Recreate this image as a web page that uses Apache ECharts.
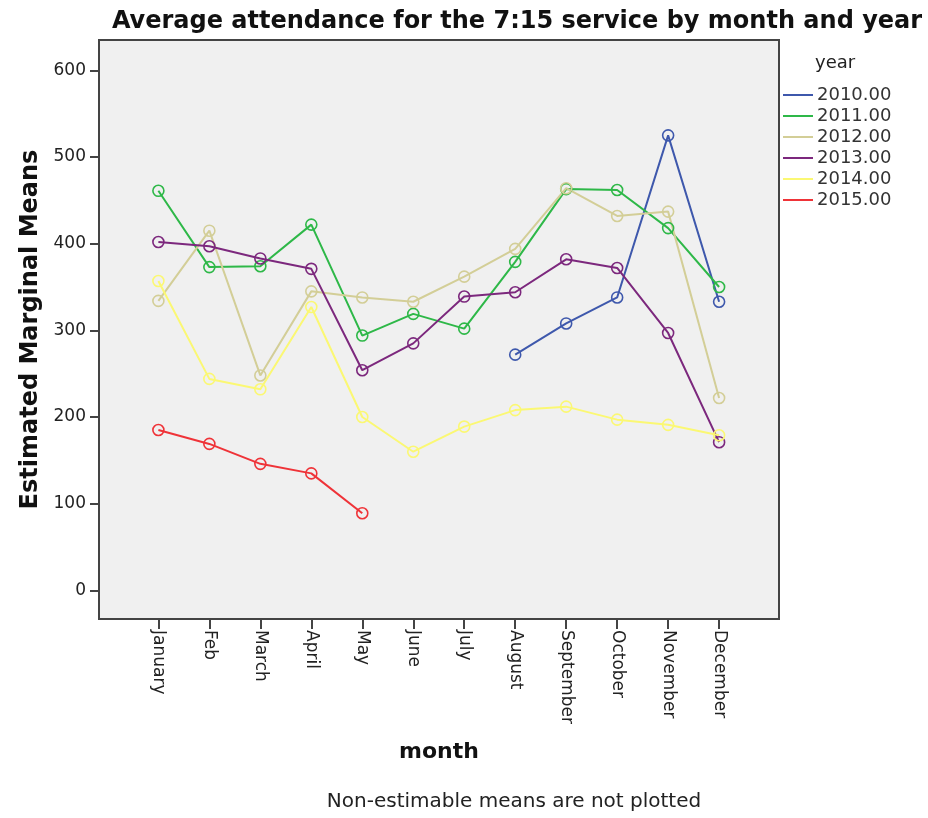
<!DOCTYPE html>
<html>
<head>
<meta charset="utf-8">
<script src="https://cdn.jsdelivr.net/npm/echarts@6/dist/echarts.min.js"></script>
<style>
html,body{margin:0;padding:0;background:#fff;}
#main{width:928px;height:818px;}
</style>
</head>
<body>
<div id="main"></div>
<script>
// months on the x axis
var months = ['January','Feb','March','April','May','June','July','August','September','October','November','December'];
var yTicks = [0,100,200,300,400,500,600];
var years = ['2010.00','2011.00','2012.00','2013.00','2014.00','2015.00'];
var colors = ['#3E58AC','#2EB848','#D3CE97','#7C287D','#FBF873','#EF3338'];

// estimated marginal means, null = not estimable
var y2010 = [null,null,null,null,null,null,null,272,308,338,525,333];
var y2011 = [461,373,374,422,294,319,302,379,463,462,418,350];
var y2012 = [334,415,248,345,338,333,362,394,464,432,437,222];
var y2013 = [402,397,383,371,254,285,339,344,382,372,297,171];
var y2014 = [357,244,232,327,200,160,189,208,212,197,191,179];
var y2015 = [185,169,146,135,89,null,null,null,null,null,null,null];

var allYears = [y2010,y2011,y2012,y2013,y2014,y2015];

function pairs(arr){
    var out=[];
    for(var i=0;i<arr.length;i++){
        if(arr[i]!==null) out.push([i,arr[i]]);
    }
    return out;
}

var font = 'DejaVu Sans';
var series = [];
var legendData = [];
for(var s=0;s<years.length;s++){
    series.push({
        name: years[s],
        type: 'line',
        data: pairs(allYears[s]),
        symbol: 'circle',
        symbolSize: 11,
        lineStyle: {width: 2, color: colors[s]},
        itemStyle: {color: 'rgba(0,0,0,0)', borderColor: colors[s], borderWidth: 1.6},
        animation: false
    });
    legendData.push({name: years[s], itemStyle: {color: colors[s], borderWidth: 0}});
}

var myChart = echarts.init(document.getElementById('main'));
myChart.setOption({
    backgroundColor: '#fff',
    title: [{
        text: 'Average attendance for the 7:15 service by month and year',
        left: 512, top: 5, textAlign: 'center',
        textStyle: {fontFamily: font, fontWeight: 'bold', fontSize: 24, color: '#111'}
    },{
        text: 'year',
        left: 815, top: 54, padding: 0,
        textStyle: {fontFamily: font, fontWeight: 'normal', fontSize: 18, color: '#222'}
    },{
        text: 'Non-estimable means are not plotted',
        left: 514, top: 792, textAlign: 'center', padding: 0,
        textStyle: {fontFamily: font, fontWeight: 'normal', fontSize: 20, color: '#222'}
    }],
    legend: {
        orient: 'vertical',
        left: 783, top: 86,
        padding: 0,
        icon: 'rect',
        itemWidth: 30, itemHeight: 2,
        itemGap: 3,
        data: legendData,
        textStyle: {fontFamily: font, fontSize: 18, color: '#333', padding: [0,0,0,-1]}
    },
    grid: {
        left: 99, right: 149, top: 40, bottom: 199,
        show: true,
        backgroundColor: '#F0F0F0',
        borderColor: '#444',
        borderWidth: 2
    },
    xAxis: {
        type: 'value',
        min: -1.165, max: 12.175,
        name: 'month',
        nameLocation: 'middle',
        nameGap: 122,
        nameTextStyle: {fontFamily: font, fontWeight: 'bold', fontSize: 22, color: '#111'},
        splitLine: {show: false},
        axisLine: {show: true, onZero: false, lineStyle: {color: '#444', width: 2}},
        axisTick: {show: true, length: 10, customValues: [0,1,2,3,4,5,6,7,8,9,10,11], lineStyle: {color: '#444', width: 2}},
        axisLabel: {
            customValues: [0,1,2,3,4,5,6,7,8,9,10,11],
            rotate: -90,
            margin: 11,
            fontFamily: font, fontSize: 17, color: '#222',
            formatter: function(v){ return months[Math.round(v)]; }
        }
    },
    yAxis: {
        type: 'value',
        min: -33, max: 635,
        name: 'Estimated Marginal Means',
        nameLocation: 'middle',
        nameGap: 53,
        nameTextStyle: {fontFamily: font, fontWeight: 'bold', fontSize: 24, color: '#111'},
        splitLine: {show: false},
        axisLine: {show: true, onZero: false, lineStyle: {color: '#444', width: 2}},
        axisTick: {show: true, length: 9, customValues: yTicks, lineStyle: {color: '#444', width: 2}},
        axisLabel: {
            customValues: yTicks,
            margin: 13,
            fontFamily: font, fontSize: 17, color: '#222'
        }
    },
    series: series
});
</script>
</body>
</html>
